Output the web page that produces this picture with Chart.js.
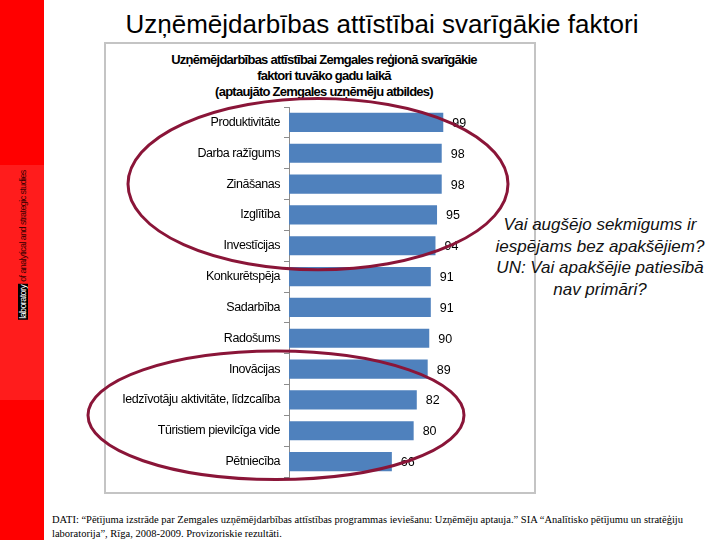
<!DOCTYPE html>
<html>
<head>
<meta charset="utf-8">
<script src="https://cdn.jsdelivr.net/npm/chart.js@4"></script>
<style>
  body { margin: 0; background: #fff; }
  #page { position: relative; width: 720px; height: 540px; overflow: hidden; font-family: "Liberation Sans", Arial, sans-serif; }
  #band { position: absolute; left: 0; top: 0; width: 44px; height: 540px; background: #ff0000; }
  #bandMid { position: absolute; left: 0; top: 165px; width: 44px; height: 235px; background: #ff1c1c; }
  #bandText { position: absolute; left: 23px; top: 245px; transform: translate(-50%, -50%) rotate(-90deg); white-space: nowrap; font-size: 9px; letter-spacing: -0.6px; color: #3a0000; }
  #bandText span { background: #000; color: #fff; padding: 0 1px; }
  #title { position: absolute; left: 44px; width: 676px; top: 9px; text-align: center; font-size: 26px; color: #000; }
  #frame { position: absolute; left: 104px; top: 42px; width: 428px; height: 448px; border: 2px solid #c4c4c4; }
  #subTitle { position: absolute; left: 110px; width: 428px; top: 52px; text-align: center; font-weight: bold; font-size: 13px; line-height: 16px; letter-spacing: -0.75px; color: #000; }
  #note { position: absolute; left: 482px; width: 236px; top: 214px; text-align: center; font-style: italic; font-size: 17px; line-height: 21.5px; color: #111; }
  #src { position: absolute; left: 52px; top: 513px; width: 648px; font-family: "Liberation Serif", serif; font-size: 10.5px; line-height: 14px; color: #000; }
  #wrap { position: absolute; left: 0; top: 0; width: 720px; height: 540px; }
</style>
</head>
<body>
<div id="page">
  <div id="band"></div>
  <div id="bandMid"></div>
  <div id="bandText"><span>laboratory</span> of analytical and strategic studies</div>
  <div id="title">Uzņēmējdarbības attīstībai svarīgākie faktori</div>
  <div id="frame"></div>
  <div id="subTitle">Uzņēmējdarbības attīstībai Zemgales reģionā svarīgākie<br>faktori tuvāko gadu laikā<br>(aptaujāto Zemgales uzņēmēju atbildes)</div>
  <div id="note">Vai augšējo sekmīgums ir iespējams bez apakšējiem? UN: Vai apakšējie patiesībā nav primāri?</div>
  <div id="src">DATI: “Pētījuma izstrāde par Zemgales uzņēmējdarbības attīstības programmas ieviešanu: Uzņēmēju aptauja.” SIA “Analītisko pētījumu un stratēģiju laboratorija”, Rīga, 2008-2009. Provizoriskie rezultāti.</div>
  <div id="wrap"><canvas id="chart"></canvas></div>
</div>
<script>
// factors and survey scores
const factors = [
    'Produktivitāte',
    'Darba ražīgums',
    'Zināšanas',
    'Izglītība',
    'Investīcijas',
    'Konkurētspēja',
    'Sadarbība',
    'Radošums',
    'Inovācijas',
    'Iedzīvotāju aktivitāte, līdzcalība',
    'Tūristiem pievilcīga vide',
    'Pētniecība'
];
const scores = [99, 98, 98, 95, 94, 91, 91, 90, 89, 82, 80, 66];

// groups circled in the picture (first and last category index)
const topGroup = [0, 4];
const bottomGroup = [8, 11];

// tighter letters for the axis labels, like the original
const tightText = {
    id: 'tightText',
    beforeDraw(chart) {
        chart.ctx.letterSpacing = '-0.45px';
    }
};

// value labels at the end of each bar
const valueLabels = {
    id: 'valueLabels',
    afterDatasetsDraw(chart) {
        const ctx = chart.ctx;
        const meta = chart.getDatasetMeta(0);
        ctx.save();
        ctx.letterSpacing = '0px';
        ctx.font = '12.5px "Liberation Sans", Arial, sans-serif';
        ctx.fillStyle = '#000';
        ctx.textAlign = 'left';
        ctx.textBaseline = 'middle';
        meta.data.forEach((bar, i) => {
            ctx.fillText(String(scores[i]), bar.x + 9, bar.y + 1);
        });
        ctx.restore();
    }
};

// the two maroon ellipses
const ellipses = {
    id: 'ellipses',
    afterDraw(chart) {
        const ctx = chart.ctx;
        const y = chart.scales.y;
        const left = chart.chartArea.left;
        function ring(group, dx, rx, extra) {
            const y0 = y.getPixelForValue(group[0]);
            const y1 = y.getPixelForValue(group[1]);
            const cy = (y0 + y1) / 2;
            const ry = (y1 - y0) / 2 + extra;
            ctx.beginPath();
            ctx.ellipse(left + dx, cy, rx, ry, 0, 0, Math.PI * 2);
            ctx.stroke();
        }
        ctx.save();
        ctx.strokeStyle = '#8a1538';
        ctx.lineWidth = 3;
        ring(topGroup, 29, 190, 24);
        ring(bottomGroup, -13, 188, 18);
        ctx.restore();
    }
};

const ctx = document.getElementById('chart').getContext('2d');
const chart = new Chart(ctx, {
    type: 'bar',
    data: {
        labels: factors,
        datasets: [{
            data: scores,
            backgroundColor: '#4f81bd',
            barPercentage: 0.62,
            categoryPercentage: 1
        }]
    },
    options: {
        indexAxis: 'y',
        responsive: true,
        maintainAspectRatio: false,
        animation: false,
        layout: {
            padding: { left: 104, right: 244, top: 107, bottom: 63 }
        },
        plugins: {
            legend: { display: false },
            tooltip: { enabled: false },
            title: { display: false }
        },
        scales: {
            x: {
                min: 0,
                max: 120,
                display: false
            },
            y: {
                grid: {
                    drawOnChartArea: false,
                    drawTicks: true,
                    tickLength: 5,
                    color: '#8c8c8c',
                    offset: true
                },
                border: { color: '#8c8c8c' },
                ticks: {
                    color: '#000',
                    padding: 4,
                    font: { family: '"Liberation Sans", Arial, sans-serif', size: 12.5 }
                },
                afterFit(scale) {
                    scale.width = 185;
                }
            }
        }
    },
    plugins: [tightText, valueLabels, ellipses]
});
</script>
</body>
</html>
